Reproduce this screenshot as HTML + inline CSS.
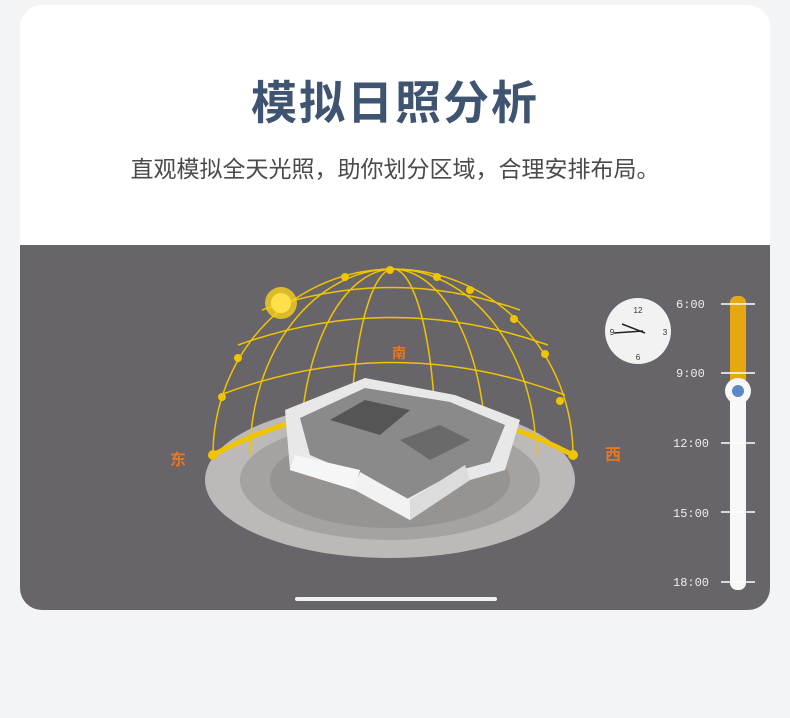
<!DOCTYPE html>
<html><head><meta charset="utf-8"><style>
body{margin:0;width:790px;height:718px;background:#f3f4f6;position:relative;overflow:hidden;font-family:"Liberation Sans","Noto Sans CJK SC",sans-serif}
.card{position:absolute;left:20px;top:5px;width:750px;height:605px;background:#fff;border-radius:22px;overflow:hidden}
h1{position:absolute;top:62px;left:0;width:750px;text-align:center;margin:0;font-size:46px;font-weight:bold;color:#3f5470;letter-spacing:2px}
.sub{position:absolute;top:145px;left:0;width:750px;text-align:center;font-size:23px;color:#4a4a4a}
.panel{position:absolute;left:0;top:240px;width:750px;height:365px;background:#67646a}
</style></head><body>
<div class="card">
<h1>模拟日照分析</h1>
<div class="sub">直观模拟全天光照，助你划分区域，合理安排布局。</div>
<div class="panel">
<svg width="750" height="365" viewBox="20 245 750 365" style="position:absolute;left:0;top:0">
<ellipse cx="390" cy="480" rx="185" ry="78" fill="#bdb9b8"/>
<ellipse cx="390" cy="480" rx="150" ry="60" fill="#a6a2a0"/>
<ellipse cx="390" cy="480" rx="120" ry="48" fill="#979391"/>
<g fill="none" stroke="#f1c400" stroke-width="1.5">
<path d="M213 455 A180 186 0 0 1 573 455"/>
<path d="M250 455 A143 186 0 0 1 536 455"/>
<path d="M300 455 A93 186 0 0 1 486 455"/>
<path d="M350 455 A43 186 0 0 1 436 455"/>
<path d="M220 395 Q392 330 565 395"/>
<path d="M238 345 Q392 290 548 345"/>
<path d="M262 310 Q392 265 520 310"/>
</g>
<path d="M213 455 Q392 360 573 455" fill="none" stroke="#f1c400" stroke-width="5"/>
<g fill="#f1c400"><circle cx="213" cy="455" r="5"/><circle cx="573" cy="455" r="5"/><circle cx="390" cy="270" r="4"/><circle cx="345" cy="277" r="4"/><circle cx="437" cy="277" r="4"/><circle cx="470" cy="290" r="4"/><circle cx="514" cy="319" r="4"/><circle cx="545" cy="354" r="4"/><circle cx="238" cy="358" r="4"/><circle cx="222" cy="397" r="4"/><circle cx="560" cy="401" r="4"/></g>
<circle cx="281" cy="303" r="16" fill="#f7d21a" opacity=".8"/><circle cx="281" cy="303" r="10" fill="#ffe04a"/>
<polygon points="285,410 365,378 455,395 520,420 505,470 470,480 410,520 355,490 290,470" fill="#e8e8e8"/>
<polygon points="300,418 365,388 450,402 505,425 490,462 460,470 405,500 350,472 310,455" fill="#8a8a8a"/>
<polygon points="330,420 365,400 410,410 380,435" fill="#555"/>
<polygon points="400,440 440,425 470,440 430,460" fill="#6a6a6a"/>
<polygon points="290,470 355,490 360,470 295,455" fill="#f6f6f6"/>
<polygon points="355,490 410,520 410,500 360,472" fill="#f2f2f2"/>
<polygon points="410,520 470,480 465,465 410,500" fill="#dcdcdc"/>
<text x="392" y="358" fill="#e87722" font-size="14" font-weight="bold">南</text>
<text x="170" y="465" fill="#e87722" font-size="16" font-weight="bold">东</text>
<text x="605" y="460" fill="#e87722" font-size="16" font-weight="bold">西</text>
<circle cx="638" cy="331" r="33" fill="#f2f2f2"/>
<text x="638" y="313" font-size="8" text-anchor="middle" fill="#333">12</text>
<text x="665" y="335" font-size="8" text-anchor="middle" fill="#333">3</text>
<text x="638" y="360" font-size="8" text-anchor="middle" fill="#333">6</text>
<text x="612" y="335" font-size="8" text-anchor="middle" fill="#333">9</text>
<path d="M614 333 L643 331 M622 324 L645 333" stroke="#222" stroke-width="1.5"/>
<g fill="#eee" font-size="12" font-family="Liberation Mono,monospace">
<text x="676" y="308">6:00</text><text x="676" y="377">9:00</text><text x="673" y="447">12:00</text><text x="673" y="517">15:00</text><text x="673" y="586">18:00</text></g>
<rect x="730" y="296" width="16" height="294" rx="7" fill="#f8f8f8"/>
<rect x="730" y="296" width="16" height="95" rx="7" fill="#e5a90f"/>
<g stroke="#fff" stroke-width="1.5"><path d="M721 304H755M721 373H755M721 443H755M721 512H755M721 582H755"/></g>
<circle cx="738" cy="391" r="13" fill="#f8f8f8"/><circle cx="738" cy="391" r="6" fill="#5d88c8"/>
<rect x="295" y="597" width="202" height="4" rx="2" fill="#f1f1f1"/>
</svg>
</div>
</div>
</body></html>
